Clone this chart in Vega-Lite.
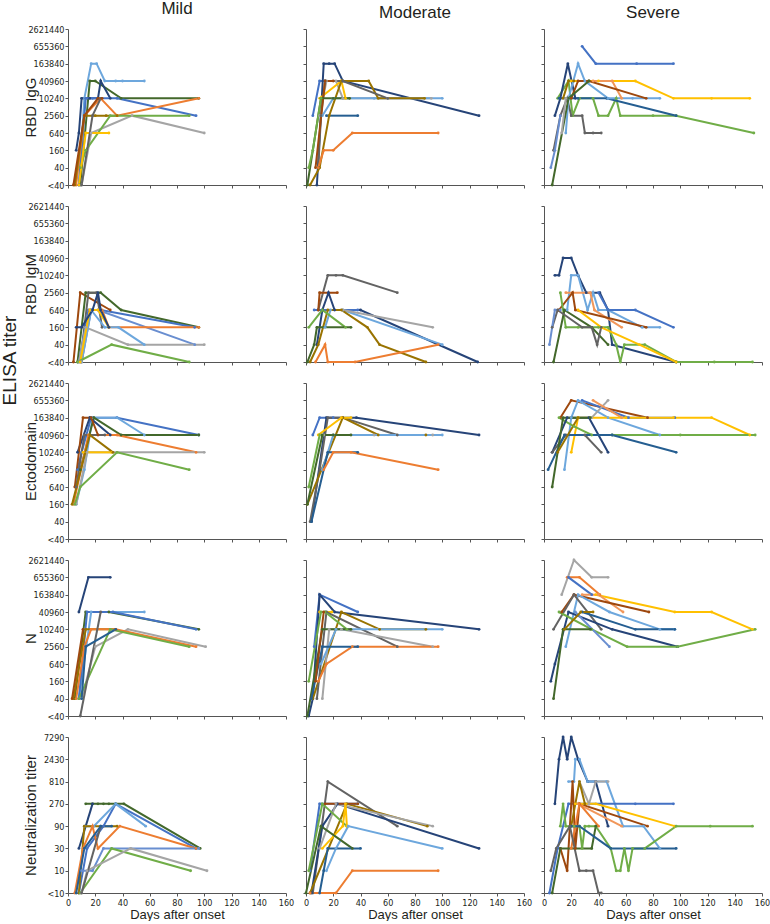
{
"$schema": "https://vega.github.io/schema/vega-lite/v6.json",
"padding": {"left": 0, "top": 0, "right": 0, "bottom": 0},
"background": "white",
"title": {"text": "ELISA titer", "orient": "left", "fontSize": 19, "fontWeight": "normal", "font": "Liberation Sans", "color": "#231f20", "anchor": "middle", "dx": 100, "offset": 3},
"config": {
  "view": {"continuousWidth": 218, "continuousHeight": 156, "stroke": null},
  "axis": {"grid": false, "domainColor": "#555555", "domainWidth": 1, "tickColor": "#555555", "tickSize": 3, "labelFont": "Liberation Sans Narrow, Arial Narrow, DejaVu Sans Condensed, sans-serif", "labelFontSize": 9, "labelColor": "#231f20", "labelPadding": 1, "labelFlush": false, "titleFont": "Liberation Sans", "titleFontWeight": "normal", "titleColor": "#231f20", "titleFontSize": 15},
  "title": {"font": "Liberation Sans", "fontSize": 17, "fontWeight": "normal", "color": "#231f20", "offset": 7},
  "line": {"strokeWidth": 2, "point": {"filled": true, "size": 8}}
},
"datasets": {"t": [
{"r":"IgG","s":"Mild","p":5,"d":8,"v":0},{"r":"IgG","s":"Mild","p":5,"d":12,"v":5},{"r":"IgG","s":"Mild","p":5,"d":17,"v":7},{"r":"IgG","s":"Mild","p":5,"d":21,"v":7},{"r":"IgG","s":"Mild","p":5,"d":27,"v":6},{"r":"IgG","s":"Mild","p":5,"d":35,"v":6},{"r":"IgG","s":"Mild","p":5,"d":40,"v":6},{"r":"IgG","s":"Mild","p":5,"d":56,"v":6},
{"r":"IgG","s":"Mild","p":12,"d":9,"v":0},{"r":"IgG","s":"Mild","p":12,"d":16,"v":6},{"r":"IgG","s":"Mild","p":12,"d":20,"v":6},{"r":"IgG","s":"Mild","p":12,"d":39,"v":5},{"r":"IgG","s":"Mild","p":12,"d":96,"v":5},
{"r":"IgG","s":"Mild","p":7,"d":6,"v":2},{"r":"IgG","s":"Mild","p":7,"d":8,"v":3},{"r":"IgG","s":"Mild","p":7,"d":10,"v":5},{"r":"IgG","s":"Mild","p":7,"d":16,"v":5},{"r":"IgG","s":"Mild","p":7,"d":22,"v":5},{"r":"IgG","s":"Mild","p":7,"d":24,"v":6},{"r":"IgG","s":"Mild","p":7,"d":31,"v":5},
{"r":"IgG","s":"Mild","p":1,"d":8,"v":0},{"r":"IgG","s":"Mild","p":1,"d":13,"v":5},{"r":"IgG","s":"Mild","p":1,"d":18,"v":5},{"r":"IgG","s":"Mild","p":1,"d":36,"v":5},{"r":"IgG","s":"Mild","p":1,"d":94,"v":4},
{"r":"IgG","s":"Mild","p":2,"d":6,"v":0},{"r":"IgG","s":"Mild","p":2,"d":12,"v":4},{"r":"IgG","s":"Mild","p":2,"d":24,"v":5},{"r":"IgG","s":"Mild","p":2,"d":36,"v":4},{"r":"IgG","s":"Mild","p":2,"d":96,"v":5},
{"r":"IgG","s":"Mild","p":10,"d":5,"v":0},{"r":"IgG","s":"Mild","p":10,"d":12,"v":4},{"r":"IgG","s":"Mild","p":10,"d":20,"v":4},{"r":"IgG","s":"Mild","p":10,"d":28,"v":4},{"r":"IgG","s":"Mild","p":10,"d":36,"v":4},
{"r":"IgG","s":"Mild","p":3,"d":10,"v":0},{"r":"IgG","s":"Mild","p":3,"d":17,"v":3},{"r":"IgG","s":"Mild","p":3,"d":47,"v":4},{"r":"IgG","s":"Mild","p":3,"d":100,"v":3},
{"r":"IgG","s":"Mild","p":6,"d":9,"v":1},{"r":"IgG","s":"Mild","p":6,"d":13,"v":2},{"r":"IgG","s":"Mild","p":6,"d":31,"v":4},{"r":"IgG","s":"Mild","p":6,"d":89,"v":4},
{"r":"IgG","s":"Mild","p":4,"d":8,"v":0},{"r":"IgG","s":"Mild","p":4,"d":13,"v":3},{"r":"IgG","s":"Mild","p":4,"d":30,"v":3},
{"r":"IgG","s":"Mild","p":9,"d":10,"v":0},{"r":"IgG","s":"Mild","p":9,"d":18,"v":4},{"r":"IgG","s":"Mild","p":9,"d":24,"v":5},
{"r":"IgG","s":"Mild","p":8,"d":4,"v":0},{"r":"IgG","s":"Mild","p":8,"d":12,"v":4},{"r":"IgG","s":"Mild","p":8,"d":22,"v":5},{"r":"IgG","s":"Mild","p":8,"d":25,"v":5},

{"r":"IgG","s":"Moderate","p":1,"d":5,"v":4},{"r":"IgG","s":"Moderate","p":1,"d":10,"v":6},{"r":"IgG","s":"Moderate","p":1,"d":14,"v":6},
{"r":"IgG","s":"Moderate","p":11,"d":15,"v":4},{"r":"IgG","s":"Moderate","p":11,"d":38,"v":4},
{"r":"IgG","s":"Moderate","p":7,"d":8,"v":0},{"r":"IgG","s":"Moderate","p":7,"d":13,"v":7},{"r":"IgG","s":"Moderate","p":7,"d":17,"v":7},{"r":"IgG","s":"Moderate","p":7,"d":21,"v":7},{"r":"IgG","s":"Moderate","p":7,"d":27,"v":6},{"r":"IgG","s":"Moderate","p":7,"d":127,"v":4},
{"r":"IgG","s":"Moderate","p":3,"d":10,"v":4},{"r":"IgG","s":"Moderate","p":3,"d":15,"v":6},{"r":"IgG","s":"Moderate","p":3,"d":22,"v":6},{"r":"IgG","s":"Moderate","p":3,"d":27,"v":5},{"r":"IgG","s":"Moderate","p":3,"d":60,"v":5},{"r":"IgG","s":"Moderate","p":3,"d":92,"v":5},
{"r":"IgG","s":"Moderate","p":5,"d":12,"v":4},{"r":"IgG","s":"Moderate","p":5,"d":20,"v":5},{"r":"IgG","s":"Moderate","p":5,"d":50,"v":5},{"r":"IgG","s":"Moderate","p":5,"d":100,"v":5},
{"r":"IgG","s":"Moderate","p":4,"d":10,"v":5},{"r":"IgG","s":"Moderate","p":4,"d":26,"v":6},{"r":"IgG","s":"Moderate","p":4,"d":29,"v":5},
{"r":"IgG","s":"Moderate","p":10,"d":3,"v":0},{"r":"IgG","s":"Moderate","p":10,"d":10,"v":1},{"r":"IgG","s":"Moderate","p":10,"d":17,"v":4},{"r":"IgG","s":"Moderate","p":10,"d":26,"v":6},{"r":"IgG","s":"Moderate","p":10,"d":46,"v":6},{"r":"IgG","s":"Moderate","p":10,"d":53,"v":5},{"r":"IgG","s":"Moderate","p":10,"d":87,"v":5},
{"r":"IgG","s":"Moderate","p":9,"d":9,"v":1},{"r":"IgG","s":"Moderate","p":9,"d":11,"v":4},{"r":"IgG","s":"Moderate","p":9,"d":14,"v":6},{"r":"IgG","s":"Moderate","p":9,"d":27,"v":6},{"r":"IgG","s":"Moderate","p":9,"d":60,"v":5},
{"r":"IgG","s":"Moderate","p":8,"d":7,"v":1},{"r":"IgG","s":"Moderate","p":8,"d":14,"v":6},{"r":"IgG","s":"Moderate","p":8,"d":20,"v":6},
{"r":"IgG","s":"Moderate","p":12,"d":1,"v":0},{"r":"IgG","s":"Moderate","p":12,"d":11,"v":5},{"r":"IgG","s":"Moderate","p":12,"d":20,"v":5},{"r":"IgG","s":"Moderate","p":12,"d":32,"v":5},
{"r":"IgG","s":"Moderate","p":6,"d":2,"v":1},{"r":"IgG","s":"Moderate","p":6,"d":5,"v":2},{"r":"IgG","s":"Moderate","p":6,"d":11,"v":5},
{"r":"IgG","s":"Moderate","p":2,"d":9,"v":1},{"r":"IgG","s":"Moderate","p":2,"d":13,"v":2},{"r":"IgG","s":"Moderate","p":2,"d":20,"v":2},{"r":"IgG","s":"Moderate","p":2,"d":34,"v":3},{"r":"IgG","s":"Moderate","p":2,"d":97,"v":3},

{"r":"IgG","s":"Severe","p":1,"d":28,"v":8},{"r":"IgG","s":"Severe","p":1,"d":38,"v":7},{"r":"IgG","s":"Severe","p":1,"d":68,"v":7},{"r":"IgG","s":"Severe","p":1,"d":95,"v":7},
{"r":"IgG","s":"Severe","p":4,"d":20,"v":6},{"r":"IgG","s":"Severe","p":4,"d":40,"v":6},{"r":"IgG","s":"Severe","p":4,"d":67,"v":6},{"r":"IgG","s":"Severe","p":4,"d":95,"v":5},{"r":"IgG","s":"Severe","p":4,"d":123,"v":5},{"r":"IgG","s":"Severe","p":4,"d":151,"v":5},
{"r":"IgG","s":"Severe","p":6,"d":10,"v":5},{"r":"IgG","s":"Severe","p":6,"d":18,"v":6},{"r":"IgG","s":"Severe","p":6,"d":21,"v":4},{"r":"IgG","s":"Severe","p":6,"d":26,"v":5},{"r":"IgG","s":"Severe","p":6,"d":36,"v":5},{"r":"IgG","s":"Severe","p":6,"d":40,"v":4},{"r":"IgG","s":"Severe","p":6,"d":47,"v":4},{"r":"IgG","s":"Severe","p":6,"d":53,"v":5},{"r":"IgG","s":"Severe","p":6,"d":56,"v":4},{"r":"IgG","s":"Severe","p":6,"d":80,"v":4},{"r":"IgG","s":"Severe","p":6,"d":97,"v":4},{"r":"IgG","s":"Severe","p":6,"d":154,"v":3},
{"r":"IgG","s":"Severe","p":9,"d":7,"v":2},{"r":"IgG","s":"Severe","p":9,"d":12,"v":4},{"r":"IgG","s":"Severe","p":9,"d":17,"v":5},{"r":"IgG","s":"Severe","p":9,"d":20,"v":4},{"r":"IgG","s":"Severe","p":9,"d":28,"v":4},{"r":"IgG","s":"Severe","p":9,"d":30,"v":3},{"r":"IgG","s":"Severe","p":9,"d":36,"v":3},{"r":"IgG","s":"Severe","p":9,"d":42,"v":3},
{"r":"IgG","s":"Severe","p":7,"d":8,"v":4},{"r":"IgG","s":"Severe","p":7,"d":12,"v":5},{"r":"IgG","s":"Severe","p":7,"d":17.5,"v":7},{"r":"IgG","s":"Severe","p":7,"d":23,"v":5},
{"r":"IgG","s":"Severe","p":11,"d":11,"v":5},{"r":"IgG","s":"Severe","p":11,"d":25,"v":5},{"r":"IgG","s":"Severe","p":11,"d":46,"v":5},{"r":"IgG","s":"Severe","p":11,"d":97,"v":4},
{"r":"IgG","s":"Severe","p":5,"d":16,"v":3},{"r":"IgG","s":"Severe","p":5,"d":18,"v":5},{"r":"IgG","s":"Severe","p":5,"d":25,"v":7},{"r":"IgG","s":"Severe","p":5,"d":30,"v":6},{"r":"IgG","s":"Severe","p":5,"d":47,"v":5},{"r":"IgG","s":"Severe","p":5,"d":65,"v":5},{"r":"IgG","s":"Severe","p":5,"d":85,"v":5},
{"r":"IgG","s":"Severe","p":14,"d":36,"v":6},{"r":"IgG","s":"Severe","p":14,"d":50,"v":6},{"r":"IgG","s":"Severe","p":14,"d":57,"v":5},
{"r":"IgG","s":"Severe","p":8,"d":20,"v":5},{"r":"IgG","s":"Severe","p":8,"d":25,"v":6},{"r":"IgG","s":"Severe","p":8,"d":33,"v":6},{"r":"IgG","s":"Severe","p":8,"d":75,"v":5},
{"r":"IgG","s":"Severe","p":12,"d":6,"v":0},{"r":"IgG","s":"Severe","p":12,"d":18,"v":5},{"r":"IgG","s":"Severe","p":12,"d":33,"v":6},
{"r":"IgG","s":"Severe","p":10,"d":14,"v":5},{"r":"IgG","s":"Severe","p":10,"d":18,"v":6},{"r":"IgG","s":"Severe","p":10,"d":22,"v":6},
{"r":"IgG","s":"Severe","p":3,"d":13,"v":3},{"r":"IgG","s":"Severe","p":3,"d":16,"v":5},
{"r":"IgG","s":"Severe","p":13,"d":5,"v":1},{"r":"IgG","s":"Severe","p":13,"d":8,"v":2},{"r":"IgG","s":"Severe","p":13,"d":12,"v":4},

{"r":"IgM","s":"Mild","p":8,"d":4,"v":0},{"r":"IgM","s":"Mild","p":8,"d":9,"v":4},{"r":"IgM","s":"Mild","p":8,"d":31,"v":3},
{"r":"IgM","s":"Mild","p":12,"d":7,"v":0},{"r":"IgM","s":"Mild","p":12,"d":13,"v":4},{"r":"IgM","s":"Mild","p":12,"d":24,"v":4},{"r":"IgM","s":"Mild","p":12,"d":39,"v":3},{"r":"IgM","s":"Mild","p":12,"d":96,"v":2},
{"r":"IgM","s":"Mild","p":9,"d":9,"v":0},{"r":"IgM","s":"Mild","p":9,"d":15,"v":4},{"r":"IgM","s":"Mild","p":9,"d":21,"v":4},{"r":"IgM","s":"Mild","p":9,"d":25,"v":2},
{"r":"IgM","s":"Mild","p":1,"d":8,"v":0},{"r":"IgM","s":"Mild","p":1,"d":15,"v":3},{"r":"IgM","s":"Mild","p":1,"d":24,"v":3},{"r":"IgM","s":"Mild","p":1,"d":93,"v":2},
{"r":"IgM","s":"Mild","p":13,"d":10,"v":0},{"r":"IgM","s":"Mild","p":13,"d":17,"v":3},{"r":"IgM","s":"Mild","p":13,"d":22,"v":3},{"r":"IgM","s":"Mild","p":13,"d":93,"v":1},
{"r":"IgM","s":"Mild","p":2,"d":10,"v":0},{"r":"IgM","s":"Mild","p":2,"d":16,"v":3},{"r":"IgM","s":"Mild","p":2,"d":25,"v":3},{"r":"IgM","s":"Mild","p":2,"d":30,"v":2},{"r":"IgM","s":"Mild","p":2,"d":96,"v":2},
{"r":"IgM","s":"Mild","p":3,"d":8,"v":0},{"r":"IgM","s":"Mild","p":3,"d":13,"v":2},{"r":"IgM","s":"Mild","p":3,"d":44,"v":1},{"r":"IgM","s":"Mild","p":3,"d":100,"v":1},
{"r":"IgM","s":"Mild","p":5,"d":10,"v":0},{"r":"IgM","s":"Mild","p":5,"d":17,"v":3},{"r":"IgM","s":"Mild","p":5,"d":27,"v":2},{"r":"IgM","s":"Mild","p":5,"d":37,"v":2},{"r":"IgM","s":"Mild","p":5,"d":56,"v":1},
{"r":"IgM","s":"Mild","p":4,"d":9,"v":0},{"r":"IgM","s":"Mild","p":4,"d":16,"v":3},{"r":"IgM","s":"Mild","p":4,"d":22,"v":3},{"r":"IgM","s":"Mild","p":4,"d":30,"v":2},
{"r":"IgM","s":"Mild","p":6,"d":7,"v":0},{"r":"IgM","s":"Mild","p":6,"d":32,"v":1},{"r":"IgM","s":"Mild","p":6,"d":89,"v":0},
{"r":"IgM","s":"Mild","p":7,"d":6,"v":2},{"r":"IgM","s":"Mild","p":7,"d":10,"v":2},{"r":"IgM","s":"Mild","p":7,"d":18,"v":3},{"r":"IgM","s":"Mild","p":7,"d":22,"v":4},{"r":"IgM","s":"Mild","p":7,"d":24,"v":3},{"r":"IgM","s":"Mild","p":7,"d":30,"v":2},

{"r":"IgM","s":"Moderate","p":9,"d":9,"v":3},{"r":"IgM","s":"Moderate","p":9,"d":16,"v":5},{"r":"IgM","s":"Moderate","p":9,"d":22,"v":5},{"r":"IgM","s":"Moderate","p":9,"d":27,"v":5},{"r":"IgM","s":"Moderate","p":9,"d":67,"v":4},
{"r":"IgM","s":"Moderate","p":8,"d":9,"v":3},{"r":"IgM","s":"Moderate","p":8,"d":10,"v":4},{"r":"IgM","s":"Moderate","p":8,"d":23,"v":4},
{"r":"IgM","s":"Moderate","p":7,"d":8,"v":1},{"r":"IgM","s":"Moderate","p":7,"d":12,"v":3},{"r":"IgM","s":"Moderate","p":7,"d":16.5,"v":4},{"r":"IgM","s":"Moderate","p":7,"d":21,"v":3},{"r":"IgM","s":"Moderate","p":7,"d":40,"v":3},{"r":"IgM","s":"Moderate","p":7,"d":126,"v":0},
{"r":"IgM","s":"Moderate","p":1,"d":6,"v":3},{"r":"IgM","s":"Moderate","p":1,"d":38,"v":3},
{"r":"IgM","s":"Moderate","p":5,"d":14,"v":2},{"r":"IgM","s":"Moderate","p":5,"d":18,"v":3},{"r":"IgM","s":"Moderate","p":5,"d":27,"v":3},{"r":"IgM","s":"Moderate","p":5,"d":100,"v":1},
{"r":"IgM","s":"Moderate","p":3,"d":27,"v":3},{"r":"IgM","s":"Moderate","p":3,"d":93,"v":2},
{"r":"IgM","s":"Moderate","p":10,"d":3,"v":0},{"r":"IgM","s":"Moderate","p":10,"d":9,"v":1},{"r":"IgM","s":"Moderate","p":10,"d":16,"v":3},{"r":"IgM","s":"Moderate","p":10,"d":26,"v":3},{"r":"IgM","s":"Moderate","p":10,"d":45,"v":2},{"r":"IgM","s":"Moderate","p":10,"d":54,"v":1},{"r":"IgM","s":"Moderate","p":10,"d":88,"v":0},
{"r":"IgM","s":"Moderate","p":6,"d":2,"v":2},{"r":"IgM","s":"Moderate","p":6,"d":12,"v":3},{"r":"IgM","s":"Moderate","p":6,"d":29,"v":2},
{"r":"IgM","s":"Moderate","p":12,"d":1,"v":0},{"r":"IgM","s":"Moderate","p":12,"d":6,"v":1},{"r":"IgM","s":"Moderate","p":12,"d":8,"v":2},{"r":"IgM","s":"Moderate","p":12,"d":33,"v":2},
{"r":"IgM","s":"Moderate","p":2,"d":7,"v":0},{"r":"IgM","s":"Moderate","p":2,"d":14,"v":1},{"r":"IgM","s":"Moderate","p":2,"d":16,"v":0},{"r":"IgM","s":"Moderate","p":2,"d":36,"v":0},{"r":"IgM","s":"Moderate","p":2,"d":97,"v":1},

{"r":"IgM","s":"Severe","p":7,"d":8,"v":5},{"r":"IgM","s":"Severe","p":7,"d":11,"v":5},{"r":"IgM","s":"Severe","p":7,"d":14,"v":6},{"r":"IgM","s":"Severe","p":7,"d":20,"v":6},{"r":"IgM","s":"Severe","p":7,"d":25,"v":5},{"r":"IgM","s":"Severe","p":7,"d":31,"v":4},{"r":"IgM","s":"Severe","p":7,"d":41,"v":4},{"r":"IgM","s":"Severe","p":7,"d":47,"v":3},{"r":"IgM","s":"Severe","p":7,"d":50,"v":1},{"r":"IgM","s":"Severe","p":7,"d":97,"v":0},
{"r":"IgM","s":"Severe","p":5,"d":17,"v":3},{"r":"IgM","s":"Severe","p":5,"d":20,"v":5},{"r":"IgM","s":"Severe","p":5,"d":25,"v":5},{"r":"IgM","s":"Severe","p":5,"d":32,"v":3},{"r":"IgM","s":"Severe","p":5,"d":36,"v":4},{"r":"IgM","s":"Severe","p":5,"d":40,"v":3},{"r":"IgM","s":"Severe","p":5,"d":47,"v":3},{"r":"IgM","s":"Severe","p":5,"d":72,"v":2},{"r":"IgM","s":"Severe","p":5,"d":85,"v":2},
{"r":"IgM","s":"Severe","p":1,"d":40,"v":4},{"r":"IgM","s":"Severe","p":1,"d":47,"v":3},{"r":"IgM","s":"Severe","p":1,"d":67,"v":3},{"r":"IgM","s":"Severe","p":1,"d":95,"v":2},
{"r":"IgM","s":"Severe","p":14,"d":16,"v":4},{"r":"IgM","s":"Severe","p":14,"d":34,"v":4},{"r":"IgM","s":"Severe","p":14,"d":37,"v":3},{"r":"IgM","s":"Severe","p":14,"d":57,"v":2},
{"r":"IgM","s":"Severe","p":8,"d":11,"v":3},{"r":"IgM","s":"Severe","p":8,"d":21,"v":4},{"r":"IgM","s":"Severe","p":8,"d":23,"v":3},{"r":"IgM","s":"Severe","p":8,"d":75,"v":2},
{"r":"IgM","s":"Severe","p":6,"d":12,"v":4},{"r":"IgM","s":"Severe","p":6,"d":16,"v":2},{"r":"IgM","s":"Severe","p":6,"d":25,"v":2},{"r":"IgM","s":"Severe","p":6,"d":40,"v":2},{"r":"IgM","s":"Severe","p":6,"d":47,"v":2},{"r":"IgM","s":"Severe","p":6,"d":53,"v":1},{"r":"IgM","s":"Severe","p":6,"d":56,"v":0},{"r":"IgM","s":"Severe","p":6,"d":59,"v":1},{"r":"IgM","s":"Severe","p":6,"d":74,"v":1},{"r":"IgM","s":"Severe","p":6,"d":97,"v":0},{"r":"IgM","s":"Severe","p":6,"d":125,"v":0},{"r":"IgM","s":"Severe","p":6,"d":153,"v":0},
{"r":"IgM","s":"Severe","p":4,"d":25,"v":3},{"r":"IgM","s":"Severe","p":4,"d":42,"v":2},{"r":"IgM","s":"Severe","p":4,"d":70,"v":1},{"r":"IgM","s":"Severe","p":4,"d":97,"v":0},
{"r":"IgM","s":"Severe","p":12,"d":7,"v":0},{"r":"IgM","s":"Severe","p":12,"d":15,"v":3},{"r":"IgM","s":"Severe","p":12,"d":35,"v":2},{"r":"IgM","s":"Severe","p":12,"d":47,"v":1},
{"r":"IgM","s":"Severe","p":9,"d":6,"v":2},{"r":"IgM","s":"Severe","p":9,"d":10,"v":3},{"r":"IgM","s":"Severe","p":9,"d":28,"v":2},{"r":"IgM","s":"Severe","p":9,"d":35,"v":2},{"r":"IgM","s":"Severe","p":9,"d":39,"v":1},{"r":"IgM","s":"Severe","p":9,"d":42,"v":2},
{"r":"IgM","s":"Severe","p":13,"d":4,"v":1},{"r":"IgM","s":"Severe","p":13,"d":8,"v":3},{"r":"IgM","s":"Severe","p":13,"d":12,"v":3},

{"r":"Ecto","s":"Mild","p":1,"d":7,"v":4},{"r":"Ecto","s":"Mild","p":1,"d":10,"v":5},{"r":"Ecto","s":"Mild","p":1,"d":17,"v":7},{"r":"Ecto","s":"Mild","p":1,"d":36,"v":7},{"r":"Ecto","s":"Mild","p":1,"d":96,"v":6},
{"r":"Ecto","s":"Mild","p":5,"d":6,"v":2},{"r":"Ecto","s":"Mild","p":5,"d":12,"v":4},{"r":"Ecto","s":"Mild","p":5,"d":18,"v":7},{"r":"Ecto","s":"Mild","p":5,"d":36,"v":7},{"r":"Ecto","s":"Mild","p":5,"d":56,"v":6},
{"r":"Ecto","s":"Mild","p":12,"d":9,"v":4},{"r":"Ecto","s":"Mild","p":12,"d":19,"v":7},{"r":"Ecto","s":"Mild","p":12,"d":39,"v":6},{"r":"Ecto","s":"Mild","p":12,"d":96,"v":6},
{"r":"Ecto","s":"Mild","p":7,"d":7,"v":5},{"r":"Ecto","s":"Mild","p":7,"d":16,"v":7},{"r":"Ecto","s":"Mild","p":7,"d":31,"v":6},
{"r":"Ecto","s":"Mild","p":8,"d":5,"v":3},{"r":"Ecto","s":"Mild","p":8,"d":11,"v":7},{"r":"Ecto","s":"Mild","p":8,"d":17,"v":7},{"r":"Ecto","s":"Mild","p":8,"d":22,"v":6},
{"r":"Ecto","s":"Mild","p":2,"d":4,"v":2},{"r":"Ecto","s":"Mild","p":2,"d":15,"v":6},{"r":"Ecto","s":"Mild","p":2,"d":36,"v":6},{"r":"Ecto","s":"Mild","p":2,"d":94,"v":5},
{"r":"Ecto","s":"Mild","p":9,"d":6,"v":3},{"r":"Ecto","s":"Mild","p":9,"d":12,"v":6},{"r":"Ecto","s":"Mild","p":9,"d":27,"v":6},
{"r":"Ecto","s":"Mild","p":3,"d":6,"v":2},{"r":"Ecto","s":"Mild","p":3,"d":14,"v":5},{"r":"Ecto","s":"Mild","p":3,"d":33,"v":5},{"r":"Ecto","s":"Mild","p":3,"d":100,"v":5},
{"r":"Ecto","s":"Mild","p":4,"d":11,"v":5},{"r":"Ecto","s":"Mild","p":4,"d":32,"v":5},
{"r":"Ecto","s":"Mild","p":10,"d":3,"v":2},{"r":"Ecto","s":"Mild","p":10,"d":16,"v":6},{"r":"Ecto","s":"Mild","p":10,"d":33,"v":5},
{"r":"Ecto","s":"Mild","p":6,"d":5,"v":2},{"r":"Ecto","s":"Mild","p":6,"d":9,"v":3},{"r":"Ecto","s":"Mild","p":6,"d":36,"v":5},{"r":"Ecto","s":"Mild","p":6,"d":89,"v":4},

{"r":"Ecto","s":"Moderate","p":1,"d":5,"v":6},{"r":"Ecto","s":"Moderate","p":1,"d":10,"v":7},{"r":"Ecto","s":"Moderate","p":1,"d":20,"v":7},
{"r":"Ecto","s":"Moderate","p":7,"d":4,"v":1},{"r":"Ecto","s":"Moderate","p":7,"d":15,"v":7},{"r":"Ecto","s":"Moderate","p":7,"d":37,"v":7},{"r":"Ecto","s":"Moderate","p":7,"d":127,"v":6},
{"r":"Ecto","s":"Moderate","p":9,"d":3,"v":1},{"r":"Ecto","s":"Moderate","p":9,"d":10,"v":4},{"r":"Ecto","s":"Moderate","p":9,"d":16,"v":7},{"r":"Ecto","s":"Moderate","p":9,"d":27,"v":7},{"r":"Ecto","s":"Moderate","p":9,"d":67,"v":6},
{"r":"Ecto","s":"Moderate","p":10,"d":1,"v":2},{"r":"Ecto","s":"Moderate","p":10,"d":27,"v":7},{"r":"Ecto","s":"Moderate","p":10,"d":53,"v":6},{"r":"Ecto","s":"Moderate","p":10,"d":88,"v":6},
{"r":"Ecto","s":"Moderate","p":4,"d":9,"v":6},{"r":"Ecto","s":"Moderate","p":4,"d":26,"v":7},{"r":"Ecto","s":"Moderate","p":4,"d":33,"v":7},
{"r":"Ecto","s":"Moderate","p":3,"d":13,"v":6},{"r":"Ecto","s":"Moderate","p":3,"d":50,"v":6},{"r":"Ecto","s":"Moderate","p":3,"d":93,"v":6},
{"r":"Ecto","s":"Moderate","p":5,"d":12,"v":4},{"r":"Ecto","s":"Moderate","p":5,"d":20,"v":6},{"r":"Ecto","s":"Moderate","p":5,"d":100,"v":6},
{"r":"Ecto","s":"Moderate","p":12,"d":1,"v":2},{"r":"Ecto","s":"Moderate","p":12,"d":12,"v":6},{"r":"Ecto","s":"Moderate","p":12,"d":20,"v":6},{"r":"Ecto","s":"Moderate","p":12,"d":33,"v":6},
{"r":"Ecto","s":"Moderate","p":6,"d":2,"v":3},{"r":"Ecto","s":"Moderate","p":6,"d":10,"v":6},
{"r":"Ecto","s":"Moderate","p":11,"d":4,"v":1},{"r":"Ecto","s":"Moderate","p":11,"d":16,"v":5},{"r":"Ecto","s":"Moderate","p":11,"d":38,"v":5},
{"r":"Ecto","s":"Moderate","p":2,"d":13,"v":4},{"r":"Ecto","s":"Moderate","p":2,"d":20,"v":5},{"r":"Ecto","s":"Moderate","p":2,"d":33,"v":5},{"r":"Ecto","s":"Moderate","p":2,"d":97,"v":4},

{"r":"Ecto","s":"Severe","p":8,"d":12,"v":7},{"r":"Ecto","s":"Severe","p":8,"d":20,"v":8},{"r":"Ecto","s":"Severe","p":8,"d":76,"v":7},
{"r":"Ecto","s":"Severe","p":1,"d":28,"v":8},{"r":"Ecto","s":"Severe","p":1,"d":62,"v":7},{"r":"Ecto","s":"Severe","p":1,"d":96,"v":7},
{"r":"Ecto","s":"Severe","p":5,"d":15,"v":4},{"r":"Ecto","s":"Severe","p":5,"d":20,"v":7},{"r":"Ecto","s":"Severe","p":5,"d":25,"v":8},{"r":"Ecto","s":"Severe","p":5,"d":47,"v":7},{"r":"Ecto","s":"Severe","p":5,"d":85,"v":6},
{"r":"Ecto","s":"Severe","p":3,"d":35,"v":7},{"r":"Ecto","s":"Severe","p":3,"d":47,"v":8},
{"r":"Ecto","s":"Severe","p":14,"d":36,"v":8},{"r":"Ecto","s":"Severe","p":14,"d":57,"v":7},
{"r":"Ecto","s":"Severe","p":4,"d":20,"v":5},{"r":"Ecto","s":"Severe","p":4,"d":25,"v":7},{"r":"Ecto","s":"Severe","p":4,"d":60,"v":7},{"r":"Ecto","s":"Severe","p":4,"d":95,"v":7},{"r":"Ecto","s":"Severe","p":4,"d":123,"v":7},{"r":"Ecto","s":"Severe","p":4,"d":151,"v":6},
{"r":"Ecto","s":"Severe","p":6,"d":11,"v":7},{"r":"Ecto","s":"Severe","p":6,"d":22,"v":6.5},{"r":"Ecto","s":"Severe","p":6,"d":35,"v":6},{"r":"Ecto","s":"Severe","p":6,"d":50,"v":6},{"r":"Ecto","s":"Severe","p":6,"d":100,"v":6},{"r":"Ecto","s":"Severe","p":6,"d":155,"v":6},
{"r":"Ecto","s":"Severe","p":7,"d":6,"v":5},{"r":"Ecto","s":"Severe","p":7,"d":17,"v":7},{"r":"Ecto","s":"Severe","p":7,"d":33,"v":7},{"r":"Ecto","s":"Severe","p":7,"d":47,"v":5},
{"r":"Ecto","s":"Severe","p":9,"d":6,"v":5},{"r":"Ecto","s":"Severe","p":9,"d":16,"v":6},{"r":"Ecto","s":"Severe","p":9,"d":30,"v":6},{"r":"Ecto","s":"Severe","p":9,"d":42,"v":5},
{"r":"Ecto","s":"Severe","p":11,"d":3,"v":4},{"r":"Ecto","s":"Severe","p":11,"d":15,"v":6},{"r":"Ecto","s":"Severe","p":11,"d":50,"v":6},{"r":"Ecto","s":"Severe","p":11,"d":97,"v":5},
{"r":"Ecto","s":"Severe","p":12,"d":6,"v":3},{"r":"Ecto","s":"Severe","p":12,"d":14,"v":7},{"r":"Ecto","s":"Severe","p":12,"d":34,"v":7},
{"r":"Ecto","s":"Severe","p":10,"d":10,"v":5},{"r":"Ecto","s":"Severe","p":10,"d":25,"v":7},

{"r":"N","s":"Mild","p":7,"d":8,"v":6},{"r":"N","s":"Mild","p":7,"d":15,"v":8},{"r":"N","s":"Mild","p":7,"d":31,"v":8},
{"r":"N","s":"Mild","p":12,"d":5,"v":1},{"r":"N","s":"Mild","p":12,"d":13,"v":6},{"r":"N","s":"Mild","p":12,"d":30,"v":6},{"r":"N","s":"Mild","p":12,"d":96,"v":5},
{"r":"N","s":"Mild","p":5,"d":8,"v":1},{"r":"N","s":"Mild","p":5,"d":17,"v":6},{"r":"N","s":"Mild","p":5,"d":56,"v":6},
{"r":"N","s":"Mild","p":1,"d":8,"v":1},{"r":"N","s":"Mild","p":1,"d":14,"v":6},{"r":"N","s":"Mild","p":1,"d":33,"v":6},{"r":"N","s":"Mild","p":1,"d":94,"v":5},
{"r":"N","s":"Mild","p":10,"d":4,"v":1},{"r":"N","s":"Mild","p":10,"d":13,"v":5},{"r":"N","s":"Mild","p":10,"d":35,"v":5},
{"r":"N","s":"Mild","p":3,"d":10,"v":1},{"r":"N","s":"Mild","p":3,"d":20,"v":4},{"r":"N","s":"Mild","p":3,"d":44,"v":5},{"r":"N","s":"Mild","p":3,"d":101,"v":4},
{"r":"N","s":"Mild","p":2,"d":6,"v":1},{"r":"N","s":"Mild","p":2,"d":12,"v":4},{"r":"N","s":"Mild","p":2,"d":17,"v":5},{"r":"N","s":"Mild","p":2,"d":35,"v":5},{"r":"N","s":"Mild","p":2,"d":94,"v":4},
{"r":"N","s":"Mild","p":6,"d":8,"v":1},{"r":"N","s":"Mild","p":6,"d":31,"v":5},{"r":"N","s":"Mild","p":6,"d":89,"v":4},
{"r":"N","s":"Mild","p":9,"d":9,"v":0},{"r":"N","s":"Mild","p":9,"d":24,"v":6},
{"r":"N","s":"Mild","p":11,"d":10,"v":1},{"r":"N","s":"Mild","p":11,"d":13,"v":4},{"r":"N","s":"Mild","p":11,"d":35,"v":5},
{"r":"N","s":"Mild","p":8,"d":3,"v":1},{"r":"N","s":"Mild","p":8,"d":11,"v":5},

{"r":"N","s":"Moderate","p":1,"d":6,"v":4},{"r":"N","s":"Moderate","p":1,"d":10,"v":7},{"r":"N","s":"Moderate","p":1,"d":38,"v":6},
{"r":"N","s":"Moderate","p":7,"d":2,"v":0},{"r":"N","s":"Moderate","p":7,"d":5,"v":1},{"r":"N","s":"Moderate","p":7,"d":10,"v":7},{"r":"N","s":"Moderate","p":7,"d":21,"v":6},{"r":"N","s":"Moderate","p":7,"d":127,"v":5},
{"r":"N","s":"Moderate","p":4,"d":10,"v":6},{"r":"N","s":"Moderate","p":4,"d":19,"v":6},
{"r":"N","s":"Moderate","p":10,"d":5,"v":1},{"r":"N","s":"Moderate","p":10,"d":26,"v":6},{"r":"N","s":"Moderate","p":10,"d":54,"v":5},{"r":"N","s":"Moderate","p":10,"d":88,"v":5},
{"r":"N","s":"Moderate","p":9,"d":8,"v":1},{"r":"N","s":"Moderate","p":9,"d":15,"v":6},{"r":"N","s":"Moderate","p":9,"d":67,"v":4},
{"r":"N","s":"Moderate","p":3,"d":12,"v":1},{"r":"N","s":"Moderate","p":3,"d":17,"v":5},{"r":"N","s":"Moderate","p":3,"d":26,"v":5},{"r":"N","s":"Moderate","p":3,"d":93,"v":4},
{"r":"N","s":"Moderate","p":5,"d":11,"v":3},{"r":"N","s":"Moderate","p":5,"d":22,"v":5},{"r":"N","s":"Moderate","p":5,"d":100,"v":5},
{"r":"N","s":"Moderate","p":6,"d":2,"v":2},{"r":"N","s":"Moderate","p":6,"d":11,"v":6},{"r":"N","s":"Moderate","p":6,"d":14,"v":6},{"r":"N","s":"Moderate","p":6,"d":30,"v":5},
{"r":"N","s":"Moderate","p":12,"d":1,"v":0},{"r":"N","s":"Moderate","p":12,"d":12,"v":5},{"r":"N","s":"Moderate","p":12,"d":33,"v":5},
{"r":"N","s":"Moderate","p":2,"d":9,"v":2},{"r":"N","s":"Moderate","p":2,"d":15,"v":3},{"r":"N","s":"Moderate","p":2,"d":34,"v":4},{"r":"N","s":"Moderate","p":2,"d":97,"v":4},
{"r":"N","s":"Moderate","p":11,"d":4,"v":1},{"r":"N","s":"Moderate","p":11,"d":12,"v":4},{"r":"N","s":"Moderate","p":11,"d":38,"v":4},
{"r":"N","s":"Moderate","p":8,"d":7,"v":2},{"r":"N","s":"Moderate","p":8,"d":13,"v":6},

{"r":"N","s":"Severe","p":3,"d":13,"v":7},{"r":"N","s":"Severe","p":3,"d":22,"v":9},{"r":"N","s":"Severe","p":3,"d":35,"v":8},{"r":"N","s":"Severe","p":3,"d":47,"v":8},
{"r":"N","s":"Severe","p":2,"d":17,"v":8},{"r":"N","s":"Severe","p":2,"d":26,"v":8},{"r":"N","s":"Severe","p":2,"d":41,"v":7},
{"r":"N","s":"Severe","p":1,"d":18,"v":8},{"r":"N","s":"Severe","p":1,"d":35,"v":7},
{"r":"N","s":"Severe","p":4,"d":38,"v":7},{"r":"N","s":"Severe","p":4,"d":96,"v":6},{"r":"N","s":"Severe","p":4,"d":123,"v":6},{"r":"N","s":"Severe","p":4,"d":153,"v":5},
{"r":"N","s":"Severe","p":14,"d":28,"v":7},{"r":"N","s":"Severe","p":14,"d":40,"v":7},{"r":"N","s":"Severe","p":14,"d":58,"v":6},
{"r":"N","s":"Severe","p":8,"d":13,"v":6},{"r":"N","s":"Severe","p":8,"d":22,"v":7},{"r":"N","s":"Severe","p":8,"d":77,"v":6},
{"r":"N","s":"Severe","p":5,"d":16,"v":4},{"r":"N","s":"Severe","p":5,"d":25,"v":7},{"r":"N","s":"Severe","p":5,"d":48,"v":6},{"r":"N","s":"Severe","p":5,"d":85,"v":5},{"r":"N","s":"Severe","p":5,"d":96,"v":5},
{"r":"N","s":"Severe","p":9,"d":7,"v":5},{"r":"N","s":"Severe","p":9,"d":22,"v":7},{"r":"N","s":"Severe","p":9,"d":42,"v":5},
{"r":"N","s":"Severe","p":7,"d":5,"v":2},{"r":"N","s":"Severe","p":7,"d":8,"v":3},{"r":"N","s":"Severe","p":7,"d":18,"v":6},{"r":"N","s":"Severe","p":7,"d":50,"v":5},{"r":"N","s":"Severe","p":7,"d":98,"v":4},
{"r":"N","s":"Severe","p":11,"d":28,"v":6},{"r":"N","s":"Severe","p":11,"d":67,"v":5},{"r":"N","s":"Severe","p":11,"d":96,"v":5},
{"r":"N","s":"Severe","p":6,"d":11,"v":6},{"r":"N","s":"Severe","p":6,"d":35,"v":5},{"r":"N","s":"Severe","p":6,"d":61,"v":4},{"r":"N","s":"Severe","p":6,"d":98,"v":4},{"r":"N","s":"Severe","p":6,"d":155,"v":5},
{"r":"N","s":"Severe","p":12,"d":7,"v":1},{"r":"N","s":"Severe","p":12,"d":14,"v":5},{"r":"N","s":"Severe","p":12,"d":34,"v":5},
{"r":"N","s":"Severe","p":13,"d":23,"v":6},{"r":"N","s":"Severe","p":13,"d":48,"v":4},
{"r":"N","s":"Severe","p":10,"d":15,"v":5},{"r":"N","s":"Severe","p":10,"d":27,"v":6},{"r":"N","s":"Severe","p":10,"d":36,"v":6},

{"r":"Neut","s":"Mild","p":12,"d":13,"v":4},{"r":"Neut","s":"Mild","p":12,"d":18,"v":4},{"r":"Neut","s":"Mild","p":12,"d":22,"v":4},{"r":"Neut","s":"Mild","p":12,"d":26,"v":4},{"r":"Neut","s":"Mild","p":12,"d":30,"v":4},{"r":"Neut","s":"Mild","p":12,"d":35,"v":4},{"r":"Neut","s":"Mild","p":12,"d":41,"v":4},{"r":"Neut","s":"Mild","p":12,"d":97,"v":2},
{"r":"Neut","s":"Mild","p":7,"d":8,"v":2},{"r":"Neut","s":"Mild","p":7,"d":18,"v":4},
{"r":"Neut","s":"Mild","p":1,"d":8,"v":0},{"r":"Neut","s":"Mild","p":1,"d":14,"v":2},{"r":"Neut","s":"Mild","p":1,"d":26,"v":3},{"r":"Neut","s":"Mild","p":1,"d":35,"v":4},{"r":"Neut","s":"Mild","p":1,"d":94,"v":2},
{"r":"Neut","s":"Mild","p":5,"d":12,"v":3},{"r":"Neut","s":"Mild","p":5,"d":19,"v":3},{"r":"Neut","s":"Mild","p":5,"d":35,"v":4},{"r":"Neut","s":"Mild","p":5,"d":57,"v":3},
{"r":"Neut","s":"Mild","p":10,"d":8,"v":0},{"r":"Neut","s":"Mild","p":10,"d":12,"v":3},{"r":"Neut","s":"Mild","p":10,"d":36,"v":3},
{"r":"Neut","s":"Mild","p":2,"d":5,"v":0},{"r":"Neut","s":"Mild","p":2,"d":11,"v":2},{"r":"Neut","s":"Mild","p":2,"d":18,"v":3},{"r":"Neut","s":"Mild","p":2,"d":22,"v":2},{"r":"Neut","s":"Mild","p":2,"d":38,"v":3},{"r":"Neut","s":"Mild","p":2,"d":94,"v":2},
{"r":"Neut","s":"Mild","p":13,"d":10,"v":1},{"r":"Neut","s":"Mild","p":13,"d":18,"v":1},{"r":"Neut","s":"Mild","p":13,"d":26,"v":2},{"r":"Neut","s":"Mild","p":13,"d":96,"v":2},
{"r":"Neut","s":"Mild","p":6,"d":9,"v":0},{"r":"Neut","s":"Mild","p":6,"d":32,"v":2},{"r":"Neut","s":"Mild","p":6,"d":90,"v":1},
{"r":"Neut","s":"Mild","p":3,"d":10,"v":0},{"r":"Neut","s":"Mild","p":3,"d":14,"v":1},{"r":"Neut","s":"Mild","p":3,"d":46,"v":2},{"r":"Neut","s":"Mild","p":3,"d":102,"v":1},
{"r":"Neut","s":"Mild","p":9,"d":10,"v":0},{"r":"Neut","s":"Mild","p":9,"d":24,"v":3},
{"r":"Neut","s":"Mild","p":11,"d":6,"v":0},{"r":"Neut","s":"Mild","p":11,"d":12,"v":2},{"r":"Neut","s":"Mild","p":11,"d":24,"v":3},{"r":"Neut","s":"Mild","p":11,"d":32,"v":3},

{"r":"Neut","s":"Moderate","p":9,"d":5,"v":0},{"r":"Neut","s":"Moderate","p":9,"d":16,"v":5},{"r":"Neut","s":"Moderate","p":9,"d":67,"v":3},
{"r":"Neut","s":"Moderate","p":7,"d":4,"v":0},{"r":"Neut","s":"Moderate","p":7,"d":12,"v":3},{"r":"Neut","s":"Moderate","p":7,"d":23,"v":4},{"r":"Neut","s":"Moderate","p":7,"d":127,"v":2},
{"r":"Neut","s":"Moderate","p":10,"d":3,"v":0},{"r":"Neut","s":"Moderate","p":10,"d":30,"v":4},{"r":"Neut","s":"Moderate","p":10,"d":89,"v":3},
{"r":"Neut","s":"Moderate","p":3,"d":10,"v":2},{"r":"Neut","s":"Moderate","p":3,"d":22,"v":4},{"r":"Neut","s":"Moderate","p":3,"d":93,"v":3},
{"r":"Neut","s":"Moderate","p":1,"d":3,"v":1},{"r":"Neut","s":"Moderate","p":1,"d":10,"v":4},{"r":"Neut","s":"Moderate","p":1,"d":38,"v":4},
{"r":"Neut","s":"Moderate","p":8,"d":14,"v":4},{"r":"Neut","s":"Moderate","p":8,"d":38,"v":4},
{"r":"Neut","s":"Moderate","p":6,"d":2,"v":1},{"r":"Neut","s":"Moderate","p":6,"d":12,"v":4},{"r":"Neut","s":"Moderate","p":6,"d":30,"v":3},
{"r":"Neut","s":"Moderate","p":4,"d":12,"v":2},{"r":"Neut","s":"Moderate","p":4,"d":27,"v":3},{"r":"Neut","s":"Moderate","p":4,"d":29,"v":4},{"r":"Neut","s":"Moderate","p":4,"d":30,"v":3},
{"r":"Neut","s":"Moderate","p":5,"d":15,"v":1},{"r":"Neut","s":"Moderate","p":5,"d":22,"v":2},{"r":"Neut","s":"Moderate","p":5,"d":31,"v":3},{"r":"Neut","s":"Moderate","p":5,"d":100,"v":2},
{"r":"Neut","s":"Moderate","p":12,"d":0,"v":0},{"r":"Neut","s":"Moderate","p":12,"d":11,"v":3},{"r":"Neut","s":"Moderate","p":12,"d":34,"v":2},
{"r":"Neut","s":"Moderate","p":11,"d":10,"v":0},{"r":"Neut","s":"Moderate","p":11,"d":13,"v":1},{"r":"Neut","s":"Moderate","p":11,"d":16,"v":2},{"r":"Neut","s":"Moderate","p":11,"d":40,"v":2},
{"r":"Neut","s":"Moderate","p":2,"d":3,"v":0},{"r":"Neut","s":"Moderate","p":2,"d":22,"v":0},{"r":"Neut","s":"Moderate","p":2,"d":34,"v":1},{"r":"Neut","s":"Moderate","p":2,"d":97,"v":1},

{"r":"Neut","s":"Severe","p":7,"d":8,"v":4},{"r":"Neut","s":"Severe","p":7,"d":11,"v":6},{"r":"Neut","s":"Severe","p":7,"d":14,"v":7},{"r":"Neut","s":"Severe","p":7,"d":17,"v":6},{"r":"Neut","s":"Severe","p":7,"d":20,"v":7},{"r":"Neut","s":"Severe","p":7,"d":25,"v":6},{"r":"Neut","s":"Severe","p":7,"d":32,"v":5},{"r":"Neut","s":"Severe","p":7,"d":38,"v":5},{"r":"Neut","s":"Severe","p":7,"d":47,"v":3},
{"r":"Neut","s":"Severe","p":5,"d":18,"v":5},{"r":"Neut","s":"Severe","p":5,"d":22,"v":5},{"r":"Neut","s":"Severe","p":5,"d":23,"v":6},{"r":"Neut","s":"Severe","p":5,"d":26,"v":6},{"r":"Neut","s":"Severe","p":5,"d":32,"v":5},{"r":"Neut","s":"Severe","p":5,"d":46,"v":5},{"r":"Neut","s":"Severe","p":5,"d":58,"v":3},{"r":"Neut","s":"Severe","p":5,"d":73,"v":3},{"r":"Neut","s":"Severe","p":5,"d":85,"v":2},
{"r":"Neut","s":"Severe","p":3,"d":26,"v":5},{"r":"Neut","s":"Severe","p":3,"d":33,"v":4},{"r":"Neut","s":"Severe","p":3,"d":38,"v":5},{"r":"Neut","s":"Severe","p":3,"d":47,"v":5},
{"r":"Neut","s":"Severe","p":1,"d":4,"v":0},{"r":"Neut","s":"Severe","p":1,"d":10,"v":2},{"r":"Neut","s":"Severe","p":1,"d":18,"v":4},{"r":"Neut","s":"Severe","p":1,"d":67,"v":4},{"r":"Neut","s":"Severe","p":1,"d":95,"v":4},
{"r":"Neut","s":"Severe","p":8,"d":12,"v":2},{"r":"Neut","s":"Severe","p":8,"d":17,"v":1},{"r":"Neut","s":"Severe","p":8,"d":21,"v":5},{"r":"Neut","s":"Severe","p":8,"d":23,"v":2},{"r":"Neut","s":"Severe","p":8,"d":26,"v":4},{"r":"Neut","s":"Severe","p":8,"d":76,"v":3},
{"r":"Neut","s":"Severe","p":4,"d":23,"v":4},{"r":"Neut","s":"Severe","p":4,"d":38,"v":4},{"r":"Neut","s":"Severe","p":4,"d":96,"v":3},
{"r":"Neut","s":"Severe","p":10,"d":20,"v":3},{"r":"Neut","s":"Severe","p":10,"d":26,"v":5},{"r":"Neut","s":"Severe","p":10,"d":30,"v":4},
{"r":"Neut","s":"Severe","p":14,"d":25,"v":4},{"r":"Neut","s":"Severe","p":14,"d":57,"v":3},
{"r":"Neut","s":"Severe","p":2,"d":20,"v":2},{"r":"Neut","s":"Severe","p":2,"d":26,"v":4},{"r":"Neut","s":"Severe","p":2,"d":40,"v":3},
{"r":"Neut","s":"Severe","p":6,"d":12,"v":3},{"r":"Neut","s":"Severe","p":6,"d":14,"v":4},{"r":"Neut","s":"Severe","p":6,"d":16,"v":3},{"r":"Neut","s":"Severe","p":6,"d":22,"v":3},{"r":"Neut","s":"Severe","p":6,"d":26,"v":3},{"r":"Neut","s":"Severe","p":6,"d":28,"v":2},{"r":"Neut","s":"Severe","p":6,"d":30,"v":3},{"r":"Neut","s":"Severe","p":6,"d":33,"v":3},{"r":"Neut","s":"Severe","p":6,"d":38,"v":3},{"r":"Neut","s":"Severe","p":6,"d":49,"v":2},{"r":"Neut","s":"Severe","p":6,"d":53,"v":1},{"r":"Neut","s":"Severe","p":6,"d":56,"v":1},{"r":"Neut","s":"Severe","p":6,"d":59,"v":2},{"r":"Neut","s":"Severe","p":6,"d":62,"v":1},{"r":"Neut","s":"Severe","p":6,"d":65,"v":2},{"r":"Neut","s":"Severe","p":6,"d":74,"v":2},{"r":"Neut","s":"Severe","p":6,"d":97,"v":3},{"r":"Neut","s":"Severe","p":6,"d":122,"v":3},{"r":"Neut","s":"Severe","p":6,"d":153,"v":3},
{"r":"Neut","s":"Severe","p":12,"d":6,"v":0},{"r":"Neut","s":"Severe","p":12,"d":12,"v":2},{"r":"Neut","s":"Severe","p":12,"d":35,"v":2},{"r":"Neut","s":"Severe","p":12,"d":38,"v":3},
{"r":"Neut","s":"Severe","p":11,"d":20,"v":3},{"r":"Neut","s":"Severe","p":11,"d":26,"v":3},{"r":"Neut","s":"Severe","p":11,"d":49,"v":2},{"r":"Neut","s":"Severe","p":11,"d":97,"v":2},
{"r":"Neut","s":"Severe","p":9,"d":5,"v":1},{"r":"Neut","s":"Severe","p":9,"d":9,"v":2},{"r":"Neut","s":"Severe","p":9,"d":19,"v":3},{"r":"Neut","s":"Severe","p":9,"d":26,"v":1},{"r":"Neut","s":"Severe","p":9,"d":31,"v":1},{"r":"Neut","s":"Severe","p":9,"d":36,"v":1},{"r":"Neut","s":"Severe","p":9,"d":40,"v":0},{"r":"Neut","s":"Severe","p":9,"d":42,"v":0}
]},
"data": {"name": "t"},
"spacing": 12,
"vconcat": [
 {"bounds": "flush", "spacing": 20, "hconcat": [
  {"title": "Mild", "transform": [{"filter": "datum.r=='IgG' && datum.s=='Mild'"}], "mark": {"type": "line"},
   "encoding": {"x": {"field": "d", "type": "quantitative", "scale": {"domain": [0,160], "nice": false}, "axis": {"values": [0,20,40,60,80,100,120,140,160], "labels": false, "title": null}},
    "y": {"field": "v", "type": "quantitative", "scale": {"domain": [0,9], "nice": false}, "axis": {"values": [0,1,2,3,4,5,6,7,8,9], "labelExpr": "['<40','40','160','640','2560','10240','40960','163840','655360','2621440'][datum.value]", "title": "RBD IgG", "minExtent": 30, "maxExtent": 30, "titlePadding": 0}},
    "color": {"field": "p", "type": "nominal", "scale": {"domain": [1,2,3,4,5,6,7,8,9,10,11,12,13,14], "range": ["#4472C4","#ED7D31","#A5A5A5","#FFC000","#6DA7DD","#70AD47","#264478","#9E480E","#636363","#997300","#255E91","#43682B","#698ED0","#F1975A"]}, "legend": null}}},
  {"title": "Moderate", "transform": [{"filter": "datum.r=='IgG' && datum.s=='Moderate'"}], "mark": {"type": "line"},
   "encoding": {"x": {"field": "d", "type": "quantitative", "scale": {"domain": [0,160], "nice": false}, "axis": {"values": [0,20,40,60,80,100,120,140,160], "labels": false, "title": null}},
    "y": {"field": "v", "type": "quantitative", "scale": {"domain": [0,9], "nice": false}, "axis": {"values": [0,1,2,3,4,5,6,7,8,9], "labels": false, "title": null}},
    "color": {"field": "p", "type": "nominal", "legend": null}}},
  {"title": "Severe", "transform": [{"filter": "datum.r=='IgG' && datum.s=='Severe'"}], "mark": {"type": "line"},
   "encoding": {"x": {"field": "d", "type": "quantitative", "scale": {"domain": [0,160], "nice": false}, "axis": {"values": [0,20,40,60,80,100,120,140,160], "labels": false, "title": null}},
    "y": {"field": "v", "type": "quantitative", "scale": {"domain": [0,9], "nice": false}, "axis": {"values": [0,1,2,3,4,5,6,7,8,9], "labels": false, "title": null}},
    "color": {"field": "p", "type": "nominal", "legend": null}}}
 ]},
 {"bounds": "flush", "spacing": 20, "hconcat": [
  {"transform": [{"filter": "datum.r=='IgM' && datum.s=='Mild'"}], "mark": {"type": "line"},
   "encoding": {"x": {"field": "d", "type": "quantitative", "scale": {"domain": [0,160], "nice": false}, "axis": {"values": [0,20,40,60,80,100,120,140,160], "labels": false, "title": null}},
    "y": {"field": "v", "type": "quantitative", "scale": {"domain": [0,9], "nice": false}, "axis": {"values": [0,1,2,3,4,5,6,7,8,9], "labelExpr": "['<40','40','160','640','2560','10240','40960','163840','655360','2621440'][datum.value]", "title": "RBD IgM", "minExtent": 30, "maxExtent": 30, "titlePadding": 0}},
    "color": {"field": "p", "type": "nominal", "legend": null}}},
  {"transform": [{"filter": "datum.r=='IgM' && datum.s=='Moderate'"}], "mark": {"type": "line"},
   "encoding": {"x": {"field": "d", "type": "quantitative", "scale": {"domain": [0,160], "nice": false}, "axis": {"values": [0,20,40,60,80,100,120,140,160], "labels": false, "title": null}},
    "y": {"field": "v", "type": "quantitative", "scale": {"domain": [0,9], "nice": false}, "axis": {"values": [0,1,2,3,4,5,6,7,8,9], "labels": false, "title": null}},
    "color": {"field": "p", "type": "nominal", "legend": null}}},
  {"transform": [{"filter": "datum.r=='IgM' && datum.s=='Severe'"}], "mark": {"type": "line"},
   "encoding": {"x": {"field": "d", "type": "quantitative", "scale": {"domain": [0,160], "nice": false}, "axis": {"values": [0,20,40,60,80,100,120,140,160], "labels": false, "title": null}},
    "y": {"field": "v", "type": "quantitative", "scale": {"domain": [0,9], "nice": false}, "axis": {"values": [0,1,2,3,4,5,6,7,8,9], "labels": false, "title": null}},
    "color": {"field": "p", "type": "nominal", "legend": null}}}
 ]},
 {"bounds": "flush", "spacing": 20, "hconcat": [
  {"transform": [{"filter": "datum.r=='Ecto' && datum.s=='Mild'"}], "mark": {"type": "line"},
   "encoding": {"x": {"field": "d", "type": "quantitative", "scale": {"domain": [0,160], "nice": false}, "axis": {"values": [0,20,40,60,80,100,120,140,160], "labels": false, "title": null}},
    "y": {"field": "v", "type": "quantitative", "scale": {"domain": [0,9], "nice": false}, "axis": {"values": [0,1,2,3,4,5,6,7,8,9], "labelExpr": "['<40','40','160','640','2560','10240','40960','163840','655360','2621440'][datum.value]", "title": "Ectodomain", "minExtent": 30, "maxExtent": 30, "titlePadding": 0}},
    "color": {"field": "p", "type": "nominal", "legend": null}}},
  {"transform": [{"filter": "datum.r=='Ecto' && datum.s=='Moderate'"}], "mark": {"type": "line"},
   "encoding": {"x": {"field": "d", "type": "quantitative", "scale": {"domain": [0,160], "nice": false}, "axis": {"values": [0,20,40,60,80,100,120,140,160], "labels": false, "title": null}},
    "y": {"field": "v", "type": "quantitative", "scale": {"domain": [0,9], "nice": false}, "axis": {"values": [0,1,2,3,4,5,6,7,8,9], "labels": false, "title": null}},
    "color": {"field": "p", "type": "nominal", "legend": null}}},
  {"transform": [{"filter": "datum.r=='Ecto' && datum.s=='Severe'"}], "mark": {"type": "line"},
   "encoding": {"x": {"field": "d", "type": "quantitative", "scale": {"domain": [0,160], "nice": false}, "axis": {"values": [0,20,40,60,80,100,120,140,160], "labels": false, "title": null}},
    "y": {"field": "v", "type": "quantitative", "scale": {"domain": [0,9], "nice": false}, "axis": {"values": [0,1,2,3,4,5,6,7,8,9], "labels": false, "title": null}},
    "color": {"field": "p", "type": "nominal", "legend": null}}}
 ]},
 {"bounds": "flush", "spacing": 20, "hconcat": [
  {"transform": [{"filter": "datum.r=='N' && datum.s=='Mild'"}], "mark": {"type": "line"},
   "encoding": {"x": {"field": "d", "type": "quantitative", "scale": {"domain": [0,160], "nice": false}, "axis": {"values": [0,20,40,60,80,100,120,140,160], "labels": false, "title": null}},
    "y": {"field": "v", "type": "quantitative", "scale": {"domain": [0,9], "nice": false}, "axis": {"values": [0,1,2,3,4,5,6,7,8,9], "labelExpr": "['<40','40','160','640','2560','10240','40960','163840','655360','2621440'][datum.value]", "title": "N", "minExtent": 30, "maxExtent": 30, "titlePadding": 0}},
    "color": {"field": "p", "type": "nominal", "legend": null}}},
  {"transform": [{"filter": "datum.r=='N' && datum.s=='Moderate'"}], "mark": {"type": "line"},
   "encoding": {"x": {"field": "d", "type": "quantitative", "scale": {"domain": [0,160], "nice": false}, "axis": {"values": [0,20,40,60,80,100,120,140,160], "labels": false, "title": null}},
    "y": {"field": "v", "type": "quantitative", "scale": {"domain": [0,9], "nice": false}, "axis": {"values": [0,1,2,3,4,5,6,7,8,9], "labels": false, "title": null}},
    "color": {"field": "p", "type": "nominal", "legend": null}}},
  {"transform": [{"filter": "datum.r=='N' && datum.s=='Severe'"}], "mark": {"type": "line"},
   "encoding": {"x": {"field": "d", "type": "quantitative", "scale": {"domain": [0,160], "nice": false}, "axis": {"values": [0,20,40,60,80,100,120,140,160], "labels": false, "title": null}},
    "y": {"field": "v", "type": "quantitative", "scale": {"domain": [0,9], "nice": false}, "axis": {"values": [0,1,2,3,4,5,6,7,8,9], "labels": false, "title": null}},
    "color": {"field": "p", "type": "nominal", "legend": null}}}
 ]},
 {"bounds": "flush", "spacing": 20, "hconcat": [
  {"transform": [{"filter": "datum.r=='Neut' && datum.s=='Mild'"}], "mark": {"type": "line"},
   "encoding": {"x": {"field": "d", "type": "quantitative", "scale": {"domain": [0,160], "nice": false}, "axis": {"values": [0,20,40,60,80,100,120,140,160], "title": "Days after onset", "titleFontSize": 13, "titlePadding": 1, "labelPadding": 2}},
    "y": {"field": "v", "type": "quantitative", "scale": {"domain": [0,7], "nice": false}, "axis": {"values": [0,1,2,3,4,5,6,7], "labelExpr": "['<10','10','30','90','270','810','2430','7290'][datum.value]", "title": "Neutralization titer", "minExtent": 30, "maxExtent": 30, "titlePadding": 0}},
    "color": {"field": "p", "type": "nominal", "legend": null}}},
  {"transform": [{"filter": "datum.r=='Neut' && datum.s=='Moderate'"}], "mark": {"type": "line"},
   "encoding": {"x": {"field": "d", "type": "quantitative", "scale": {"domain": [0,160], "nice": false}, "axis": {"values": [0,20,40,60,80,100,120,140,160], "title": "Days after onset", "titleFontSize": 13, "titlePadding": 1, "labelPadding": 2}},
    "y": {"field": "v", "type": "quantitative", "scale": {"domain": [0,7], "nice": false}, "axis": {"values": [0,1,2,3,4,5,6,7], "labels": false, "title": null}},
    "color": {"field": "p", "type": "nominal", "legend": null}}},
  {"transform": [{"filter": "datum.r=='Neut' && datum.s=='Severe'"}], "mark": {"type": "line"},
   "encoding": {"x": {"field": "d", "type": "quantitative", "scale": {"domain": [0,160], "nice": false}, "axis": {"values": [0,20,40,60,80,100,120,140,160], "title": "Days after onset", "titleFontSize": 13, "titlePadding": 1, "labelPadding": 2}},
    "y": {"field": "v", "type": "quantitative", "scale": {"domain": [0,7], "nice": false}, "axis": {"values": [0,1,2,3,4,5,6,7], "labels": false, "title": null}},
    "color": {"field": "p", "type": "nominal", "legend": null}}}
 ]}
]
}
